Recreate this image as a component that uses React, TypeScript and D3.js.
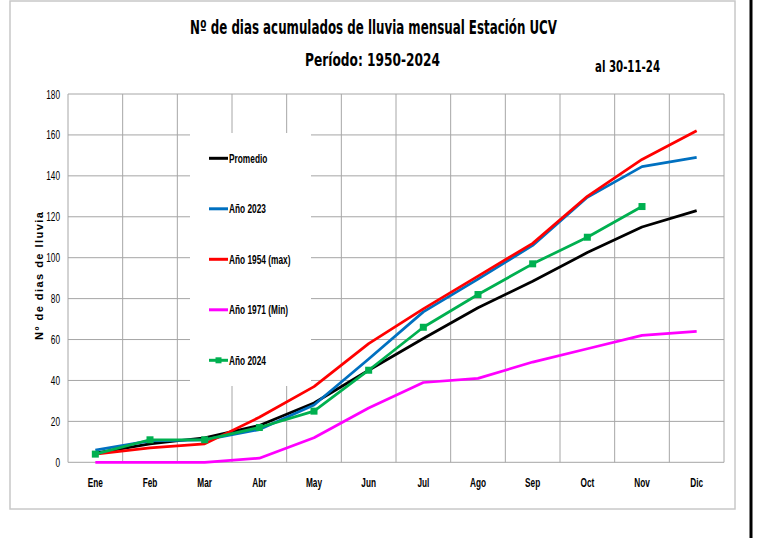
import React from 'react';
import * as d3 from 'd3';

// Meses y valores acumulados
const months = ['Ene', 'Feb', 'Mar', 'Abr', 'May', 'Jun', 'Jul', 'Ago', 'Sep', 'Oct', 'Nov', 'Dic'];
const promedio = [4.5, 9, 12, 18, 29, 45, 60.5, 75.5, 88.5, 102.5, 115, 123];
const ano2023 = [6, 10.5, 11, 16, 28, 50.5, 73.5, 89.5, 106, 129.5, 144.5, 149];
const ano1954 = [4, 7, 9, 22, 37, 58, 75, 91, 107, 130, 148, 162];
const ano1971 = [0, 0, 0, 2, 12, 26.5, 39, 41, 49, 55.5, 62, 64];
const ano2024 = [4, 11, 11, 17, 25, 45, 66, 82, 97, 110, 125];
const yTicks = [0, 20, 40, 60, 80, 100, 120, 140, 160, 180];

interface Serie {
  name: string;
  values: number[];
  color: string;
  marker?: boolean;
}

const series: Serie[] = [
  { name: 'Promedio', values: promedio, color: '#000000' },
  { name: 'Año 2023', values: ano2023, color: '#0070C0' },
  { name: 'Año 1954 (max)', values: ano1954, color: '#FF0000' },
  { name: 'Año 1971 (Min)', values: ano1971, color: '#FF00FF' },
  { name: 'Año 2024', values: ano2024, color: '#00B050', marker: true },
];

const narrow = "'Liberation Sans Narrow', 'DejaVu Sans Condensed', 'Arial Narrow', sans-serif";
const sans = "'Liberation Sans', Arial, sans-serif";

// texto comprimido horizontalmente (imita Calibri)
const Narrow: React.FC<{ x: number; y: number; sx?: number; anchor?: string; size?: number; bold?: boolean; children: React.ReactNode }> =
  ({ x, y, sx = 0.75, anchor = 'start', size = 11, bold = false, children }) => (
    <text transform={`translate(${x},${y}) scale(${sx},1)`} textAnchor={anchor} fontFamily={sans}
      fontSize={size} fontWeight={bold ? 'bold' : 'normal'} fill="#000">{children}</text>
  );

const App: React.FC = () => {
  const width = 783;
  const height = 538;
  const plot = { left: 68, right: 724, top: 94, bottom: 462.3 };

  const x = d3.scaleBand<string>().domain(months).range([plot.left, plot.right]);
  const y = d3.scaleLinear().domain([0, 180]).range([plot.bottom, plot.top]);
  const cx = (m: string) => (x(m) || 0) + x.bandwidth() / 2;

  const line = d3.line<number>()
    .x((_, i) => cx(months[i]))
    .y(d => y(d));

  // límites entre categorías (líneas verticales de la cuadrícula)
  const bounds = months.map(m => x(m) || 0).concat([plot.right]);

  const legend = { x: 190, y: 133, w: 121, h: 253 };

  return (
    <svg width={width} height={height} style={{ position: 'absolute', left: 0, top: 0, background: '#fff' }}>
      {/* marco */}
      <rect x={10} y={1} width={725} height={508} fill="#fff" stroke="#c8c8c8" strokeWidth={1.5} />
      <line x1={751} x2={751} y1={0} y2={height} stroke="#000" strokeWidth={3} />

      {/* títulos */}
      <text x={373.5} y={34} textAnchor="middle" fontFamily={narrow} fontWeight="bold" fontSize={19}
        textLength={367} lengthAdjust="spacingAndGlyphs">Nº de dias acumulados de lluvia mensual Estación UCV</text>
      <text x={372.5} y={66} textAnchor="middle" fontFamily={narrow} fontWeight="bold" fontSize={18}
        textLength={135} lengthAdjust="spacingAndGlyphs">Período:  1950-2024</text>
      <text x={627.5} y={72} textAnchor="middle" fontFamily={narrow} fontWeight="bold" fontSize={15}
        textLength={65} lengthAdjust="spacingAndGlyphs">al 30-11-24</text>

      {/* cuadrícula */}
      <g stroke="#a6a6a6" strokeWidth={1}>
        {yTicks.map(t => (
          <line key={'h' + t} x1={plot.left} x2={plot.right} y1={y(t)} y2={y(t)} />
        ))}
        {bounds.map((b, i) => (
          <line key={'v' + i} x1={b} x2={b} y1={plot.top} y2={plot.bottom} />
        ))}
      </g>

      {/* etiquetas eje Y */}
      {yTicks.map(t => (
        <Narrow key={t} x={60} y={y(t) + 4.5} anchor="end" size={12.5} sx={0.66}>{t}</Narrow>
      ))}

      {/* etiquetas eje X */}
      {months.map(m => (
        <Narrow key={m} x={cx(m)} y={487} anchor="middle" size={12.5} sx={0.66} bold>{m}</Narrow>
      ))}

      {/* título eje Y */}
      <text transform="translate(43,276) rotate(-90)" textAnchor="middle" fontFamily={sans}
        fontWeight="bold" fontSize={11} textLength={128} lengthAdjust="spacing">Nº de dias de lluvia</text>

      {/* leyenda */}
      <rect x={legend.x} y={legend.y} width={legend.w} height={legend.h} fill="#fff" />
      {series.map((s, i) => {
        const ly = 158.3 + i * 50.5;
        return (
          <g key={s.name}>
            <line x1={209} x2={228} y1={ly} y2={ly} stroke={s.color} strokeWidth={3} />
            {s.marker && <rect x={215.5} y={ly - 3} width={6} height={6} fill={s.color} />}
            <Narrow x={229} y={ly + 4.5} size={13} sx={0.64} bold>{s.name}</Narrow>
          </g>
        );
      })}

      {/* series */}
      {series.map(s => (
        <g key={s.name}>
          <path d={line(s.values) || ''} fill="none" stroke={s.color} strokeWidth={2.75} strokeLinejoin="round" />
          {s.marker && s.values.map((v, i) => (
            <rect key={i} x={cx(months[i]) - 3.5} y={y(v) - 3.5} width={7} height={7} fill={s.color} />
          ))}
        </g>
      ))}
    </svg>
  );
};

export default App;
